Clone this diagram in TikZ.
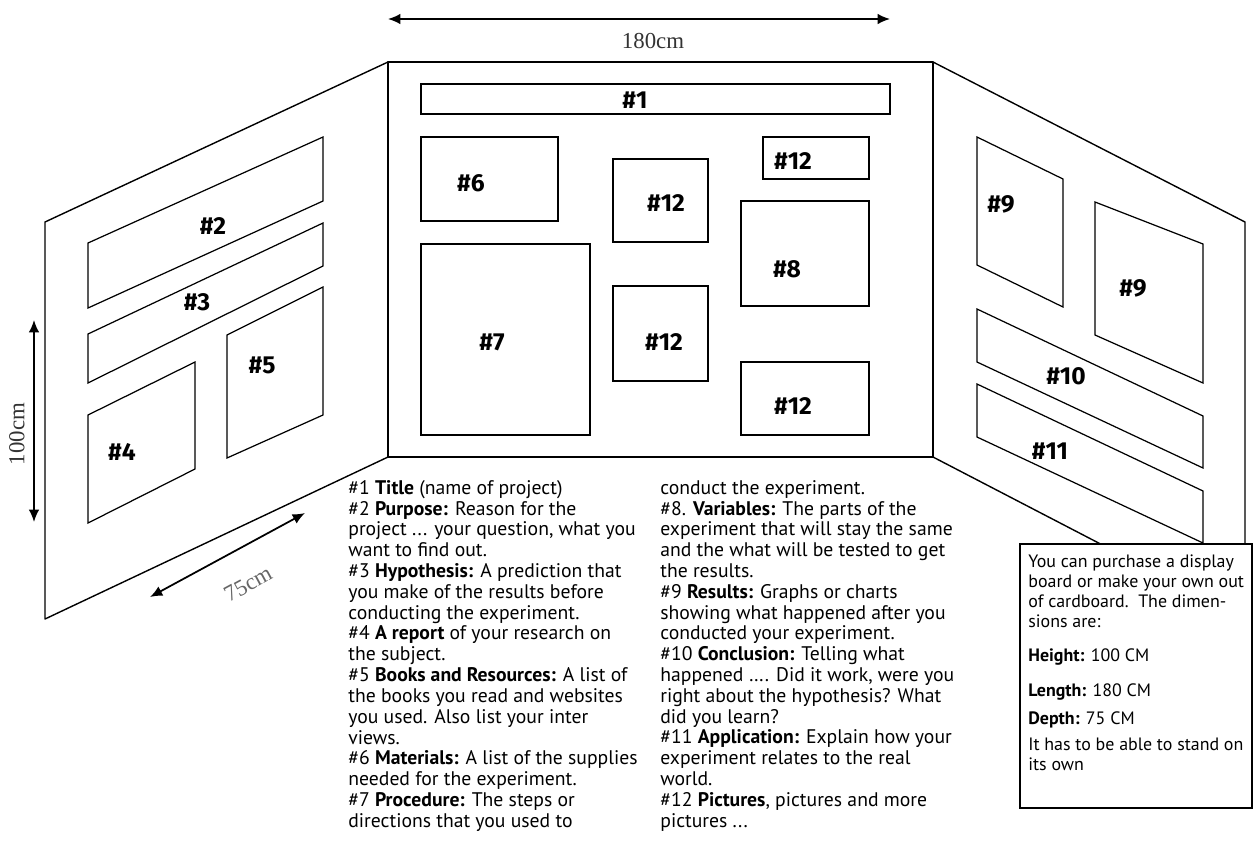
\documentclass[tikz,border=0pt]{standalone}
\usepackage{fontspec}
\setmainfont{PT Sans}
\newfontfamily\dimfont{Liberation Serif}
\newfontfamily\tagfont{Fira Sans}
\usetikzlibrary{arrows.meta}

\begin{document}
\begin{tikzpicture}[x=0.02cm,y=-0.02cm,>={Latex[length=7pt,width=6pt]}]
        \tikzstyle{panel}=[draw,line width=0.8pt,line join=round]
        \tikzstyle{slot}=[draw,line width=0.7pt]
        \tikzstyle{tag}=[font=\tagfont\bfseries\fontsize{14}{14}\selectfont,inner sep=0pt]
        \tikzstyle{dim}=[font=\dimfont\fontsize{13}{13}\selectfont,text=black!80,inner sep=0pt]
        \tikzstyle{legend}=[align=left,anchor=north west,inner sep=0pt,font=\fontsize{11.2}{11.84}\selectfont]
        \tikzstyle{info}=[align=left,anchor=north west,inner sep=0pt,font=\fontsize{10.2}{11.4}\selectfont]
        \useasboundingbox (0,0) rectangle (1254,843);

        % left panel
        \draw[panel] (45,222) -- (388,62) -- (388,457) -- (45,619) -- cycle;
        \draw[slot] (88,243) -- (323,137) -- (323,201) -- (88,308) -- cycle;
        \draw[slot] (88,334) -- (323,223) -- (323,266) -- (88,383) -- cycle;
        \draw[slot] (88,415) -- (195,362) -- (195,469) -- (88,523) -- cycle;
        \draw[slot] (227,335) -- (323,287) -- (323,415) -- (227,458) -- cycle;
        \node[tag] (n2) at (213,226) {\#2};
        \node[tag] (n3) at (197,302) {\#3};
        \node[tag] (n4) at (122,452) {\#4};
        \node[tag] (n5) at (262,365) {\#5};

        % centre panel
        \draw[panel] (388,62) rectangle (933,457);
        \draw[draw,line width=1.6pt] (421,84) rectangle (890,114);
        \draw[slot] (421,137) rectangle (558,221);
        \draw[slot] (421,244) rectangle (590,435);
        \draw[slot] (613,159) rectangle (708,242);
        \draw[slot] (613,286) rectangle (708,381);
        \draw[slot] (763,137) rectangle (869,179);
        \draw[slot] (741,201) rectangle (869,306);
        \draw[slot] (741,362) rectangle (869,435);
        \node[tag] (n1) at (635,100) {\#1};
        \node[tag] (n6) at (471,183) {\#6};
        \node[tag] (n7) at (492,342) {\#7};
        \node[tag] (n8) at (787,269) {\#8};
        \node[tag] (n12a) at (666,203) {\#12};
        \node[tag] (n12b) at (793,161) {\#12};
        \node[tag] (n12c) at (664,342) {\#12};
        \node[tag] (n12d) at (793,406) {\#12};

        % right panel
        \draw[panel] (933,62) -- (1245,222) -- (1245,619) -- (933,457) -- cycle;
        \draw[slot] (977,137) -- (1063,179) -- (1063,307) -- (977,265) -- cycle;
        \draw[slot] (1095,202) -- (1203,244) -- (1203,383) -- (1095,335) -- cycle;
        \draw[slot] (977,309) -- (1203,416) -- (1203,468) -- (977,362) -- cycle;
        \draw[slot] (977,384) -- (1203,491) -- (1203,543) -- (977,437) -- cycle;
        \node[tag] (n9a) at (1001,204) {\#9};
        \node[tag] (n9b) at (1133,288) {\#9};
        \node[tag] (n10) at (1066,376) {\#10};
        \node[tag] (n11) at (1050,451) {\#11};

        % dimensions
        \coordinate (w0) at (388,19);
        \coordinate (w1) at (890,19);
        \draw[<->,line width=1pt] (w0) -- (w1);
        \node[dim] (wlab) at (653,41) {180cm};
        \coordinate (h0) at (34,320);
        \coordinate (h1) at (34,522);
        \draw[<->,line width=1pt] (h0) -- (h1);
        \node[dim,rotate=90] (hlab) at (17,434) {100cm};
        \coordinate (d0) at (305,513);
        \coordinate (d1) at (150,597);
        \draw[<->,line width=1pt] (d0) -- (d1);
        \node[dim,rotate=28.5,text=black!60] (dlab) at (248,584) {75cm};

        % legend
        \node[legend] (col1) at (348,480) {\#1 \textbf{Title} (name of project)\\
            \#2 \textbf{Purpose:} Reason for the\\
            project ... your question, what you\\
            want to find out.\\
            \#3 \textbf{Hypothesis:} A prediction that\\
            you make of the results before\\
            conducting the experiment.\\
            \#4 \textbf{A report} of your research on\\
            the subject.\\
            \#5 \textbf{Books and Resources:} A list of\\
            the books you read and websites\\
            you used. Also list your inter\\
            views.\\
            \#6 \textbf{Materials:} A list of the supplies\\
            needed for the experiment.\\
            \#7 \textbf{Procedure:} The steps or\\
            directions that you used to};
        \node[legend] (col2) at (660,480) {conduct the experiment.\\
            \#8. \textbf{Variables:} The parts of the\\
            experiment that will stay the same\\
            and the what will be tested to get\\
            the results.\\
            \#9 \textbf{Results:} Graphs or charts\\
            showing what happened after you\\
            conducted your experiment.\\
            \#10 \textbf{Conclusion:} Telling what\\
            happened …. Did it work, were you\\
            right about the hypothesis? What\\
            did you learn?\\
            \#11 \textbf{Application:} Explain how your\\
            experiment relates to the real\\
            world.\\
            \#12 \textbf{Pictures}, pictures and more\\
            pictures ...};

        % info box
        \draw[line width=0.9pt,fill=white] (1020,544) rectangle (1252,808);
        \node[info] (inf1) at (1028,554) {You can purchase a display\\
            board or make your own out\\
            of cardboard.\ \ The dimen-\\
            sions are:};
        \node[info] (inf2) at (1028,648) {\textbf{Height:} 100 CM};
        \node[info] (inf3) at (1028,683) {\textbf{Length:} 180 CM};
        \node[info] (inf4) at (1028,711) {\textbf{Depth:} 75 CM};
        \node[info] (inf5) at (1028,738) {It has to be able to stand on\\
            its own};
\end{tikzpicture}
\end{document}
